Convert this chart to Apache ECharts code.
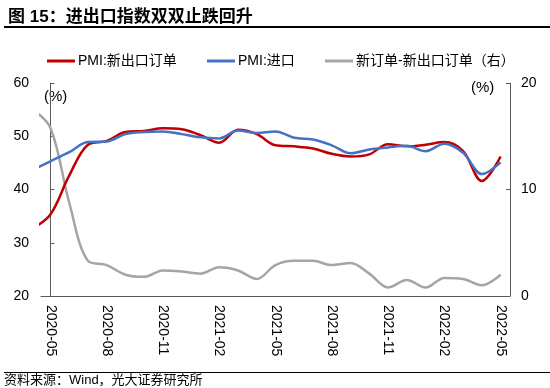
<!DOCTYPE html>
<html><head><meta charset="utf-8">
<script src="https://cdn.jsdelivr.net/npm/echarts@6/dist/echarts.min.js"></script>
<style>html,body{margin:0;padding:0;background:#fff}#c{width:550px;height:388px}</style>
</head><body><div id="c"></div>
<script>
// Monthly data, 2020-04 .. 2022-05 (first month lies just left of the plot and is clipped)
const months = ['2020-04','2020-05','2020-06','2020-07','2020-08','2020-09','2020-10','2020-11','2020-12',
  '2021-01','2021-02','2021-03','2021-04','2021-05','2021-06','2021-07','2021-08','2021-09','2021-10','2021-11','2021-12',
  '2022-01','2022-02','2022-03','2022-04','2022-05'];
const exportOrders = [32.6,35.3,42.6,48.4,49.1,50.8,51.0,51.5,51.3,50.2,48.8,51.2,50.4,48.3,48.1,47.7,46.7,46.2,46.6,48.5,48.1,48.4,48.9,47.2,41.6,46.2];
const imports = [43.6,45.3,47.0,48.9,49.0,50.4,50.8,50.9,50.4,49.8,49.6,51.1,50.6,50.9,49.7,49.4,48.3,46.8,47.5,47.9,48.2,47.2,48.6,46.9,42.9,45.1];
const orderGap = [17.6,15.8,8.8,3.3,2.9,2.0,1.8,2.4,2.3,2.1,2.7,2.4,1.6,2.9,3.3,3.3,2.9,3.1,2.1,0.8,1.5,0.8,1.7,1.6,1.0,2.0];
const axisMonths = months.slice(1);
const seriesNames = ['PMI:新出口订单','PMI:进口','新订单-新出口订单（右）'];
const leftTicks = {min: 20, max: 60, interval: 10};
const rightTicks = {min: 0, max: 20, interval: 10};

const FONT = '"Liberation Sans", Arial, "Noto Sans CJK SC", sans-serif';
const colors = ['#C00000', '#4472C4', '#A5A5A5'];
const pts = arr => arr.map((v, i) => [i - 1, v]);

const chart = echarts.init(document.getElementById('c'), null, {renderer: 'canvas'});
const legendBase = {
  orient: 'horizontal', top: 49, icon: 'rect', itemWidth: 28, itemHeight: 3, itemGap: 0,
  textStyle: {fontFamily: FONT, fontSize: 14, color: '#000', padding: [0, 0, 0, -2]}
};
chart.setOption({
  animation: false,
  textStyle: {fontFamily: FONT},
  title: {
    text: '图 15：进出口指数双双止跌回升', left: 3, top: 4,
    textStyle: {fontFamily: FONT, fontSize: 17, fontWeight: 'bold', color: '#000'}
  },
  legend: [
    Object.assign({}, legendBase, {left: 42, data: [seriesNames[0]]}),
    Object.assign({}, legendBase, {left: 202, data: [seriesNames[1]]}),
    Object.assign({}, legendBase, {left: 320, data: [seriesNames[2]]})
  ],
  grid: {left: 41, right: 40, top: 83, bottom: 92, containLabel: false},
  xAxis: [
    {
      type: 'category', data: axisMonths, boundaryGap: true, position: 'bottom',
      axisLine: {lineStyle: {color: '#595959', width: 1}},
      axisTick: {interval: 2, inside: true, length: 4, lineStyle: {color: '#595959'}},
      axisLabel: {interval: 2, rotate: -90, margin: 9, fontSize: 14, color: '#000', fontFamily: FONT},
      splitLine: {show: false}
    },
    {
      type: 'value', min: -0.5, max: 24.5, show: false, splitLine: {show: false}
    }
  ],
  yAxis: [
    {
      type: 'value', min: leftTicks.min, max: leftTicks.max, interval: leftTicks.interval,
      axisLine: {show: true, lineStyle: {color: '#595959'}},
      axisTick: {show: true, inside: true, length: 4, lineStyle: {color: '#595959'}},
      axisLabel: {fontSize: 14, color: '#000', margin: 12, fontFamily: FONT},
      splitLine: {show: false}
    },
    {
      type: 'value', min: rightTicks.min, max: rightTicks.max, interval: rightTicks.interval, position: 'right',
      axisLine: {show: true, lineStyle: {color: '#595959'}},
      axisTick: {show: true, inside: true, length: 4, lineStyle: {color: '#595959'}},
      axisLabel: {fontSize: 14, color: '#000', margin: 11, fontFamily: FONT},
      splitLine: {show: false}
    }
  ],
  series: [
    {name: seriesNames[2], type: 'line', xAxisIndex: 1, yAxisIndex: 1, data: pts(orderGap),
     smooth: 0.35, symbol: 'none', clip: true, lineStyle: {color: colors[2], width: 2.5}, itemStyle: {color: colors[2]}, z: 2},
    {name: seriesNames[1], type: 'line', xAxisIndex: 1, yAxisIndex: 0, data: pts(imports),
     smooth: 0.35, symbol: 'none', clip: true, lineStyle: {color: colors[1], width: 2.5}, itemStyle: {color: colors[1]}, z: 3},
    {name: seriesNames[0], type: 'line', xAxisIndex: 1, yAxisIndex: 0, data: pts(exportOrders),
     smooth: 0.35, symbol: 'none', clip: true, lineStyle: {color: colors[0], width: 2.5}, itemStyle: {color: colors[0]}, z: 2}
  ],
  graphic: [
    {type: 'line', shape: {x1: 4, y1: 27, x2: 550, y2: 27}, style: {stroke: '#000', lineWidth: 2}},
    {type: 'text', left: 44, top: 89, style: {text: '(%)', font: '15px ' + FONT, fill: '#000'}},
    {type: 'text', left: 471, top: 80, style: {text: '(%)', font: '15px ' + FONT, fill: '#000'}},
    {type: 'line', shape: {x1: 4, y1: 372.5, x2: 550, y2: 372.5}, style: {stroke: '#000', lineWidth: 1}},
    {type: 'text', left: 4, top: 374, style: {text: '资料来源：Wind，光大证券研究所', font: '13px ' + FONT, fill: '#000'}}
  ]
});
</script>
</body></html>
